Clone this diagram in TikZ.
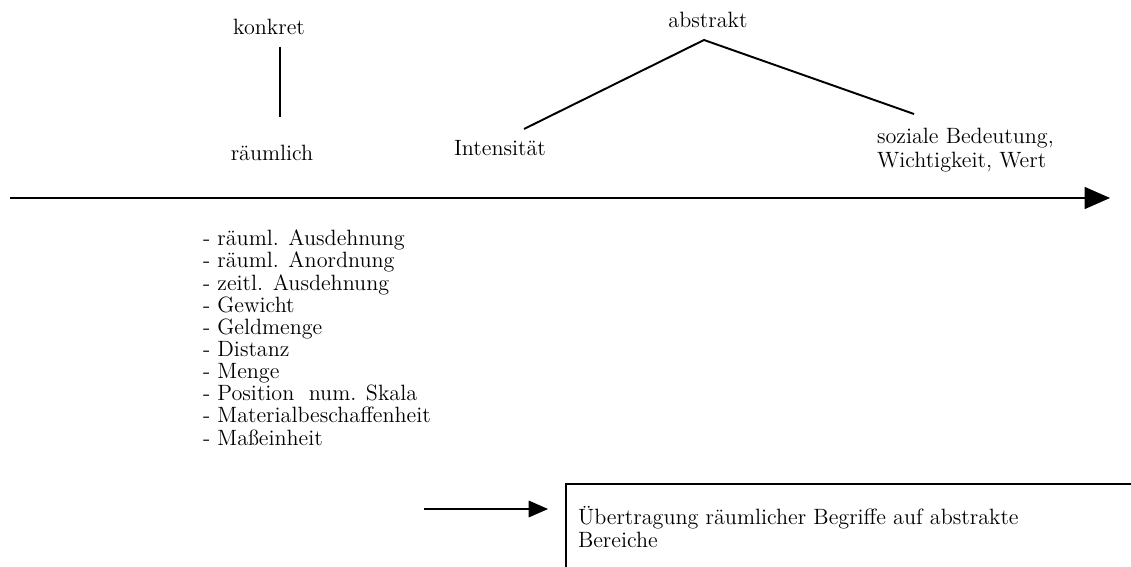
\documentclass[tikz,border=0pt]{standalone}
\usetikzlibrary{arrows.meta,positioning}
\begin{document}
\begin{tikzpicture}[x=0.02cm,y=-0.02cm,inner sep=0pt,outer sep=0pt,
label/.style={font=\fontsize{12.6}{12.6}\selectfont},
twoline/.style={font=\fontsize{12.6}{14}\selectfont,align=left,anchor=west},
branch/.style={line width=1.1pt},
bigarrow/.style={line width=1.1pt,-{Triangle[length=14.5pt,width=12.5pt]}},
smallarrow/.style={line width=0.6pt,-{Triangle[length=11pt,width=9.5pt]}}]
\clip (0,0) rectangle (1131,567);
\fill[white] (0,0) rectangle (1131,567);
% oben: konkret / abstrakt
\node[label] (konkret) at (269,27) {konkret};
\node[label] (raeumlich) at (272,153) {räumlich};
\coordinate (k1) at (280,47);
\coordinate (k2) at (280,117);
\draw[line width=0.9pt] (k1) -- (k2);
\node[label] (abstrakt) at (708,20) {abstrakt};
\coordinate (peak) at (704,40);
\coordinate (leftleg) at (524,129);
\coordinate (rightleg) at (914,114);
\draw[branch] (leftleg) -- (peak) -- (rightleg);
\node[label] (intens) at (500,148) {Intensität};
\node[twoline] (sozial) at (877,150) {soziale Bedeutung,\\Wichtigkeit, Wert};
% Achse
\coordinate (axisL) at (10,198);
\coordinate (axisR) at (1110,198);
\draw[bigarrow] (axisL) -- (axisR);
% Liste
\node[label,anchor=north west,align=left] (liste) at (203,230) {- räuml. Ausdehnung\\- räuml. Anordnung\\- zeitl. Ausdehnung\\- Gewicht\\- Geldmenge\\- Distanz\\- Menge\\- Position\ \ num. Skala\\- Materialbeschaffenheit\\- Maßeinheit};
% Übertragung
\coordinate (boxL) at (566,600);
\coordinate (boxR) at (1200,484);
\draw[line width=1.1pt] (boxL) |- (boxR);
\node[twoline,font=\fontsize{12.6}{12.6}\selectfont] (ueber) at (578,527) {Übertragung räumlicher Begriffe auf abstrakte\\Bereiche};
\coordinate (a1) at (424,509);
\coordinate (a2) at (548,509);
\draw[smallarrow] (a1) -- (a2);
\end{tikzpicture}
\end{document}
